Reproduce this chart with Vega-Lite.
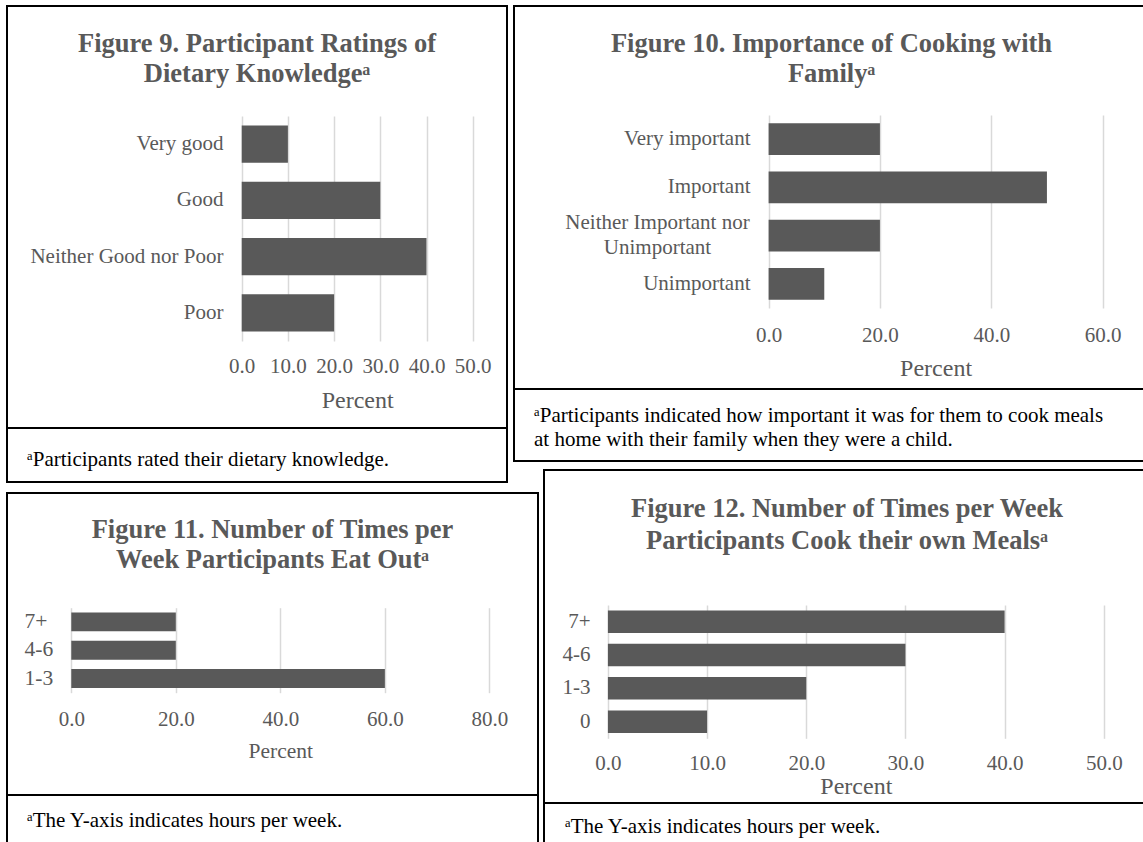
{
  "$schema": "https://vega.github.io/schema/vega-lite/v6.json",
  "padding": {"left": 6, "top": 5, "right": 0, "bottom": 0},
  "background": "white",
  "config": {
    "font": "Liberation Serif",
    "view": {"stroke": "#000000", "strokeWidth": 2},
    "axis": {
      "labelFont": "Liberation Serif", "labelFontSize": 21, "labelColor": "#595959", "labelLimit": 0,
      "titleFont": "Liberation Serif", "titleFontWeight": "normal", "titleColor": "#595959", "titleFontSize": 24,
      "domain": false, "ticks": false, "tickSize": 0,
      "gridColor": "#d9d9d9", "gridWidth": 1.5,
      "labelOverlap": false, "labelFlush": false
    },
    "title": {
      "font": "Liberation Serif", "fontSize": 26.5, "fontWeight": "bold", "color": "#595959",
      "anchor": "middle", "frame": "group", "baseline": "alphabetic", "lineHeight": 30.5
    },
    "bar": {"color": "#595959"}
  },
  "bounds": "flush",
  "spacing": 464,
  "vconcat": [
    {
      "spacing": 5,
      "hconcat": [
        {
          "bounds": "flush",
          "spacing": 0,
          "vconcat": [
            {
              "width": 500, "height": 422,
              "title": {"text": ["Figure 9. Participant Ratings of", "Dietary Knowledgeᵃ"], "offset": -81.7},
              "data": {"values": [
                {"rating": "Very good", "percent": 10},
                {"rating": "Good", "percent": 30},
                {"rating": "Neither Good nor Poor", "percent": 40},
                {"rating": "Poor", "percent": 20}
              ]},
              "mark": "bar",
              "encoding": {
                "y": {"field": "rating", "type": "nominal", "sort": null,
                      "scale": {"range": [110, 335], "paddingInner": 0.34, "paddingOuter": 0.17},
                      "axis": {"title": null, "offset": -216, "labelPadding": 0}},
                "x": {"field": "percent", "type": "quantitative",
                      "scale": {"domain": [0, 50], "range": [234.7, 465.7], "nice": false},
                      "axis": {"orient": "top", "title": "Percent", "values": [0, 10, 20, 30, 40, 50], "format": ".1f",
                               "offset": -360.7, "labelPadding": 0, "labelBaseline": "middle",
                               "titleY": 33.3, "titleBaseline": "middle"}}
              }
            },
            {
              "width": 500, "height": 54,
              "view": {"stroke": "#000000", "strokeWidth": 2},
              "title": {"text": "ᵃParticipants rated their dietary knowledge.", "anchor": "start", "dx": 20, "offset": -42,
                        "fontSize": 21, "fontWeight": "normal", "color": "#000000"},
              "data": {"values": []},
              "mark": "point"
            }
          ]
        },
        {
          "bounds": "flush",
          "spacing": 0,
          "vconcat": [
            {
              "width": 635, "height": 383,
              "title": {"text": ["Figure 10. Importance of Cooking with", "Familyᵃ"], "offset": -81.7},
              "data": {"values": [
                {"importance": "Very important", "percent": 20},
                {"importance": "Important", "percent": 50},
                {"importance": "Neither Important nor Unimportant", "percent": 20},
                {"importance": "Unimportant", "percent": 10}
              ]},
              "mark": "bar",
              "encoding": {
                "y": {"field": "importance", "type": "nominal", "sort": null,
                      "scale": {"range": [109, 302], "paddingInner": 0.344, "paddingOuter": 0.172},
                      "axis": {"title": null, "offset": -236, "labelLineHeight": 25,
                               "labelExpr": "datum.value == 'Neither Important nor Unimportant' ? ['Neither Important nor', 'Unimportant'] : datum.label",
                               "labelAlign": {"condition": {"test": "datum.value == 'Neither Important nor Unimportant'", "value": "center"}, "value": "right"},
                               "labelPadding": {"condition": {"test": "datum.value == 'Neither Important nor Unimportant'", "value": 93}, "value": 0},
                               "labelOffset": {"condition": {"test": "datum.value == 'Neither Important nor Unimportant'", "value": -12.5}, "value": 0}}},
                "x": {"field": "percent", "type": "quantitative",
                      "scale": {"domain": [0, 60], "range": [254.6, 588.6], "nice": false},
                      "axis": {"orient": "top", "title": "Percent", "values": [0, 20, 40, 60], "format": ".1f",
                               "offset": -329, "labelPadding": 0, "labelBaseline": "middle",
                               "titleY": 33, "titleBaseline": "middle"}}
              }
            },
            {
              "width": 635, "height": 72,
              "view": {"stroke": "#000000", "strokeWidth": 2},
              "title": {"text": ["ᵃParticipants indicated how important it was for them to cook meals", "at home with their family when they were a child."],
                        "anchor": "start", "dx": 20, "offset": -61, "lineHeight": 24,
                        "fontSize": 21, "fontWeight": "normal", "color": "#000000"},
              "data": {"values": []},
              "mark": "point"
            }
          ]
        }
      ]
    },
    {
      "spacing": 4,
      "hconcat": [
        {
          "bounds": "flush",
          "spacing": 0,
          "vconcat": [
            {
              "width": 531, "height": 23,
              "view": {"stroke": null},
              "data": {"values": []},
              "mark": "point"
            },
            {
              "width": 531, "height": 302,
              "title": {"text": ["Figure 11. Number of Times per", "Week Participants Eat Outᵃ"], "offset": -80.7},
              "data": {"values": [
                {"times": "7+", "percent": 20},
                {"times": "4-6", "percent": 20},
                {"times": "1-3", "percent": 60}
              ]},
              "mark": "bar",
              "encoding": {
                "y": {"field": "times", "type": "nominal", "sort": null,
                      "scale": {"range": [114.7, 199.7], "paddingInner": 0.33, "paddingOuter": 0.165},
                      "axis": {"title": null, "offset": -17, "labelPadding": 0, "labelAlign": "left", "labelFontSize": 21.5}},
                "x": {"field": "percent", "type": "quantitative",
                      "scale": {"domain": [0, 80], "range": [64.3, 482.4], "nice": false},
                      "axis": {"orient": "top", "title": "Percent", "values": [0, 20, 40, 60, 80], "format": ".1f",
                               "offset": -226.3, "labelPadding": 0, "labelBaseline": "middle",
                               "titleY": 31.7, "titleBaseline": "middle", "titleFontSize": 21.5}}
              }
            },
            {
              "width": 531, "height": 60,
              "view": {"stroke": "#000000", "strokeWidth": 2},
              "title": {"text": "ᵃThe Y-axis indicates hours per week.", "anchor": "start", "dx": 20, "offset": -36,
                        "fontSize": 21, "fontWeight": "normal", "color": "#000000"},
              "data": {"values": []},
              "mark": "point"
            }
          ]
        },
        {
          "bounds": "flush",
          "spacing": 0,
          "vconcat": [
            {
              "width": 606, "height": 333,
              "title": {"text": ["Figure 12. Number of Times per Week", "Participants Cook their own Mealsᵃ"], "offset": -84.4, "lineHeight": 31.7},
              "data": {"values": [
                {"times": "7+", "percent": 40},
                {"times": "4-6", "percent": 30},
                {"times": "1-3", "percent": 20},
                {"times": "0", "percent": 10}
              ]},
              "mark": "bar",
              "encoding": {
                "y": {"field": "times", "type": "nominal", "sort": null,
                      "scale": {"range": [135, 268.3], "paddingInner": 0.325, "paddingOuter": 0.1625},
                      "axis": {"title": null, "offset": -46, "labelPadding": 0}},
                "x": {"field": "percent", "type": "quantitative",
                      "scale": {"domain": [0, 50], "range": [63.9, 559.8], "nice": false},
                      "axis": {"orient": "top", "title": "Percent", "values": [0, 10, 20, 30, 40, 50], "format": ".1f",
                               "offset": -293.3, "labelPadding": 0, "labelBaseline": "middle",
                               "titleY": 23.4, "titleBaseline": "middle"}}
              }
            },
            {
              "width": 606, "height": 67,
              "view": {"stroke": "#000000", "strokeWidth": 2},
              "title": {"text": "ᵃThe Y-axis indicates hours per week.", "anchor": "start", "dx": 21, "offset": -34,
                        "fontSize": 21, "fontWeight": "normal", "color": "#000000"},
              "data": {"values": []},
              "mark": "point"
            }
          ]
        }
      ]
    }
  ]
}
